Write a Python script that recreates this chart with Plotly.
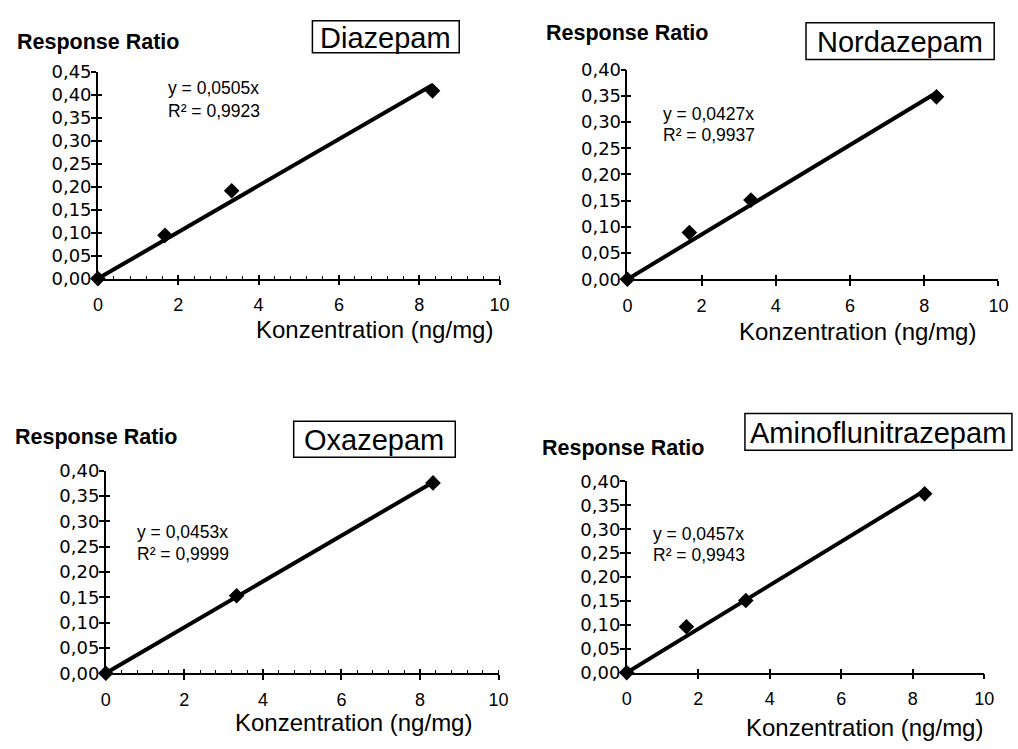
import plotly.graph_objects as go

# ---------------- data ----------------
drugs = ["Diazepam", "Nordazepam", "Oxazepam", "Aminoflunitrazepam"]
conc_diazepam = [0, 1.67, 3.33, 8.33]
ratio_diazepam = [0, 0.094, 0.191, 0.408]
conc_nordazepam = [0, 1.67, 3.33, 8.33]
ratio_nordazepam = [0, 0.089, 0.151, 0.348]
conc_oxazepam = [0, 3.33, 8.33]
ratio_oxazepam = [0, 0.153, 0.376]
conc_amino = [0, 1.67, 3.33, 8.33]
ratio_amino = [0, 0.096, 0.151, 0.374]
slopes = [0.0505, 0.0427, 0.0453, 0.0457]
slope_labels = ["0,0505", "0,0427", "0,0453", "0,0457"]
r2_labels = ["0,9923", "0,9937", "0,9999", "0,9943"]
fit_end = [8.33, 8.33, 8.33, 8.33]
y_max = [0.45, 0.40, 0.40, 0.40]
x_ticks = [0, 2, 4, 6, 8, 10]
x_title = "Konzentration (ng/mg)"
y_title = "Response Ratio"

conc = [conc_diazepam, conc_nordazepam, conc_oxazepam, conc_amino]
ratio = [ratio_diazepam, ratio_nordazepam, ratio_oxazepam, ratio_amino]

# ---------------- layout geometry (page pixels) ----------------
W, H = 1018, 749
def px(x):
    return x / W
def py(y):
    return 1 - y / H

boxes = [(94.3, 502, 62.3, 275.3),
         (631.7, 1008.3, 60.3, 276),
         (102.3, 501, 473, 681.3),
         (631, 994, 484, 680.7)]
minor_on = [True, False, True, False]
rr_pos = [(10, 32), (547, 23), (8, 438), (543, 450)]
title_box = [(312, 461, 10, 43), (813, 1004, 12, 50), (293, 457, 422, 459), (751, 1022, 414, 452)]
eq_pos = [(163, 79, 103), (666, 106, 128), (132, 536, 559), (656, 538, 560)]
xt_pos = [(375, 328), (865, 330), (354, 732), (872, 737)]

FONT = "Liberation Sans, Arial, sans-serif"
YFONT = "DejaVu Sans, sans-serif"

fig = go.Figure()
annotations = []
shapes = []
layout_axes = {}

for i in range(4):
    n = i + 1
    L, R, T, B = boxes[i]
    xa, ya = f"x{n}", f"y{n}"
    # regression line
    fig.add_trace(go.Scatter(
        x=[0, fit_end[i]], y=[0, slopes[i] * fit_end[i]],
        mode="lines", line=dict(color="black", width=4),
        xaxis=xa, yaxis=ya, showlegend=False, hoverinfo="skip", cliponaxis=False))
    # measured points
    fig.add_trace(go.Scatter(
        x=conc[i], y=ratio[i], mode="markers",
        marker=dict(symbol="diamond", size=12, color="black"),
        xaxis=xa, yaxis=ya, showlegend=False, cliponaxis=False))
    # overlay axes to draw the inner half of the crossing ticks
    fig.add_trace(go.Scatter(x=[None], y=[None], xaxis=f"x{n+4}", yaxis=f"y{n+4}",
                             showlegend=False, hoverinfo="skip"))

    xdom = [px(L), min(px(R), 1.0)]
    ydom = [py(B), py(T)]
    xaxis = dict(domain=xdom, anchor=ya, range=[0, 10], tickvals=x_ticks,
                 showline=True, linecolor="black", linewidth=1.5,
                 ticks="outside", ticklen=5, tickwidth=1.5, tickcolor="black",
                 ticklabelstandoff=4,
                 showgrid=False, zeroline=False, fixedrange=True,
                 tickfont=dict(family=FONT, size=18, color="black"))
    if minor_on[i]:
        xaxis["minor"] = dict(dtick=0.4, ticks="inside", ticklen=3, tickwidth=1, tickcolor="black", showgrid=False)
    yaxis = dict(domain=ydom, anchor=xa, range=[0, y_max[i]], dtick=0.05, tickformat=".2f",
                 showline=True, linecolor="black", linewidth=1.5,
                 ticks="outside", ticklen=5, tickwidth=1.5, tickcolor="black",
                 ticklabelstandoff=-4,
                 showgrid=False, zeroline=False, fixedrange=True,
                 tickfont=dict(family=YFONT, size=18, color="black"))
    xover = dict(overlaying=xa, anchor=f"y{n+4}", range=[0, 10], tickvals=x_ticks,
                 ticks="inside", ticklen=4, tickwidth=1.5, tickcolor="black",
                 showticklabels=False, showline=False, showgrid=False, zeroline=False, fixedrange=True)
    yover = dict(overlaying=ya, anchor=f"x{n+4}", range=[0, y_max[i]], dtick=0.05,
                 ticks="inside", ticklen=4, tickwidth=1.5, tickcolor="black",
                 showticklabels=False, showline=False, showgrid=False, zeroline=False, fixedrange=True)
    layout_axes[f"xaxis{n}"] = xaxis
    layout_axes[f"yaxis{n}"] = yaxis
    layout_axes[f"xaxis{n+4}"] = xover
    layout_axes[f"yaxis{n+4}"] = yover

    rx, ry = rr_pos[i]
    annotations.append(dict(text=f"<b>{y_title}</b>", x=px(rx), y=py(ry), xref="paper", yref="paper",
                            xanchor="left", yanchor="middle", showarrow=False,
                            font=dict(family=FONT, size=21.5, color="black")))
    bl, br, bt, bb = title_box[i]
    shapes.append(dict(type="rect", xref="paper", yref="paper", x0=px(bl), x1=px(br), y0=py(bb), y1=py(bt),
                       line=dict(color="black", width=1.5), fillcolor="rgba(0,0,0,0)"))
    annotations.append(dict(text=drugs[i], x=px((bl + min(br, 1017)) / 2 if i != 3 else (bl + 3)),
                            y=py((bt + bb) / 2 + 1), xref="paper", yref="paper",
                            xanchor="center" if i != 3 else "left", yanchor="middle", showarrow=False,
                            font=dict(family=FONT, size=29, color="black")))
    ex, ey1, ey2 = eq_pos[i]
    annotations.append(dict(text=f"y = {slope_labels[i]}x", x=px(ex), y=py(ey1), xref="paper", yref="paper",
                            xanchor="left", yanchor="middle", showarrow=False,
                            font=dict(family=FONT, size=17.5, color="black")))
    annotations.append(dict(text=f"R² = {r2_labels[i]}", x=px(ex), y=py(ey2), xref="paper", yref="paper",
                            xanchor="left", yanchor="middle", showarrow=False,
                            font=dict(family=FONT, size=17.5, color="black")))
    tx, ty = xt_pos[i]
    annotations.append(dict(text=x_title, x=px(tx), y=py(ty), xref="paper", yref="paper",
                            xanchor="center", yanchor="middle", showarrow=False,
                            font=dict(family=FONT, size=24, color="black")))

fig.update_layout(
    width=W, height=H, margin=dict(l=0, r=0, t=0, b=0),
    paper_bgcolor="white", plot_bgcolor="white",
    separators=",.", showlegend=False,
    annotations=annotations, shapes=shapes,
    **layout_axes,
)

fig.write_html("out.html", config={"displayModeBar": False},
               post_script="document.documentElement.style.margin='0';document.body.style.margin='0';"
                           "document.body.style.padding='0';document.body.style.overflow='hidden';")
